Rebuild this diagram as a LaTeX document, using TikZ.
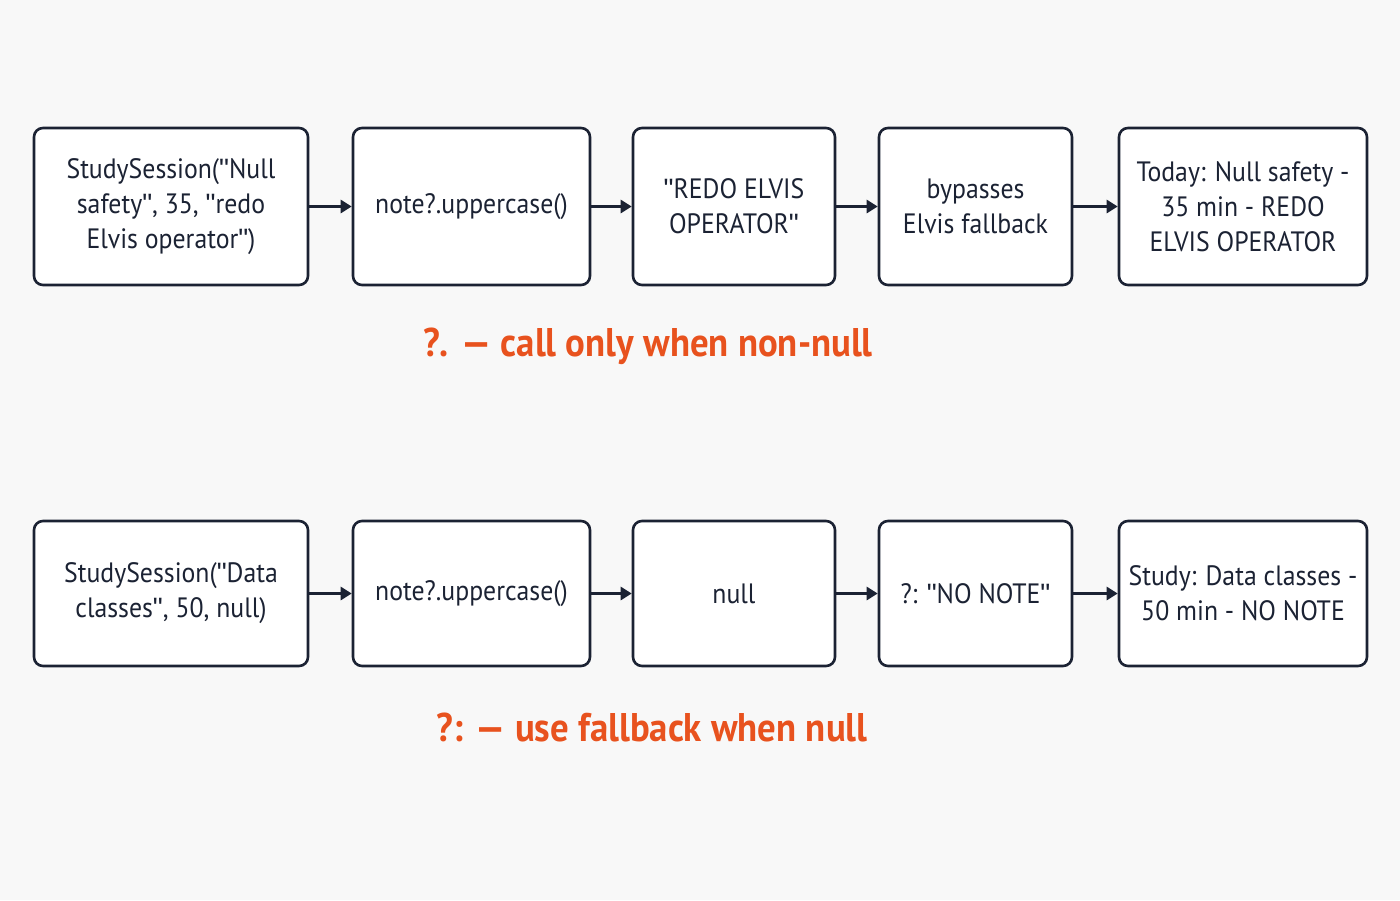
\documentclass[tikz,border=0pt]{standalone}
\usepackage{fontspec}
\setmainfont[FakeStretch=0.92]{PT Sans}
\newfontfamily\quotefont{Liberation Sans}
\usetikzlibrary{arrows.meta,positioning}
\definecolor{boxline}{HTML}{1B2233}
\definecolor{notecol}{HTML}{E8521E}
\definecolor{bgcol}{HTML}{F8F8F8}
\newcommand{\qq}{{\quotefont\symbol{34}}}
\tikzset{
  stepbox/.style={draw=boxline, line width=2.6pt, rounded corners=9pt, fill=white,
    align=center, inner sep=2pt, font=\fontsize{28}{35}\selectfont, text=boxline},
  flow/.style={draw=boxline, line width=2.8pt, -{Triangle[length=11pt,width=13pt]}},
  note/.style={text=notecol, font=\fontsize{40}{44}\selectfont\bfseries}
}
\begin{document}
\begin{tikzpicture}[x=1pt,y=-1pt]
		\fill[bgcol] (0,0) rectangle (1400,900);
		\useasboundingbox (0,0) rectangle (1400,900);
		% first row
		\node[stepbox, minimum width=274pt, minimum height=157pt] (a1) at (171,206.5) {StudySession(\qq Null\\safety\qq, 35, \qq redo\\Elvis operator\qq)};
		\node[stepbox, minimum width=237pt, minimum height=157pt] (b1) at (471.5,206.5) {note?.uppercase()};
		\node[stepbox, minimum width=202pt, minimum height=157pt] (c1) at (734,206.5) {\qq REDO ELVIS\\OPERATOR\qq};
		\node[stepbox, minimum width=193pt, minimum height=157pt] (d1) at (975.5,206.5) {bypasses\\Elvis fallback};
		\node[stepbox, minimum width=248pt, minimum height=157pt] (e1) at (1243,206.5) {Today: Null safety -\\35 min - REDO\\ELVIS OPERATOR};
		\draw[flow] (a1) -- (b1);
		\draw[flow] (b1) -- (c1);
		\draw[flow] (c1) -- (d1);
		\draw[flow] (d1) -- (e1);
		\node[note] (n1) at (648,346) {?. — call only when non-null};
		% second row
		\node[stepbox, minimum width=274pt, minimum height=145pt] (a2) at (171,593.5) {StudySession(\qq Data\\classes\qq, 50, null)};
		\node[stepbox, minimum width=237pt, minimum height=145pt] (b2) at (471.5,593.5) {note?.uppercase()};
		\node[stepbox, minimum width=202pt, minimum height=145pt] (c2) at (734,593.5) {null};
		\node[stepbox, minimum width=193pt, minimum height=145pt] (d2) at (975.5,593.5) {?: \qq NO NOTE\qq};
		\node[stepbox, minimum width=248pt, minimum height=145pt] (e2) at (1243,593.5) {Study: Data classes -\\50 min - NO NOTE};
		\draw[flow] (a2) -- (b2);
		\draw[flow] (b2) -- (c2);
		\draw[flow] (c2) -- (d2);
		\draw[flow] (d2) -- (e2);
		\node[note] (n2) at (652,727) {?: — use fallback when null};
\end{tikzpicture}
\end{document}
